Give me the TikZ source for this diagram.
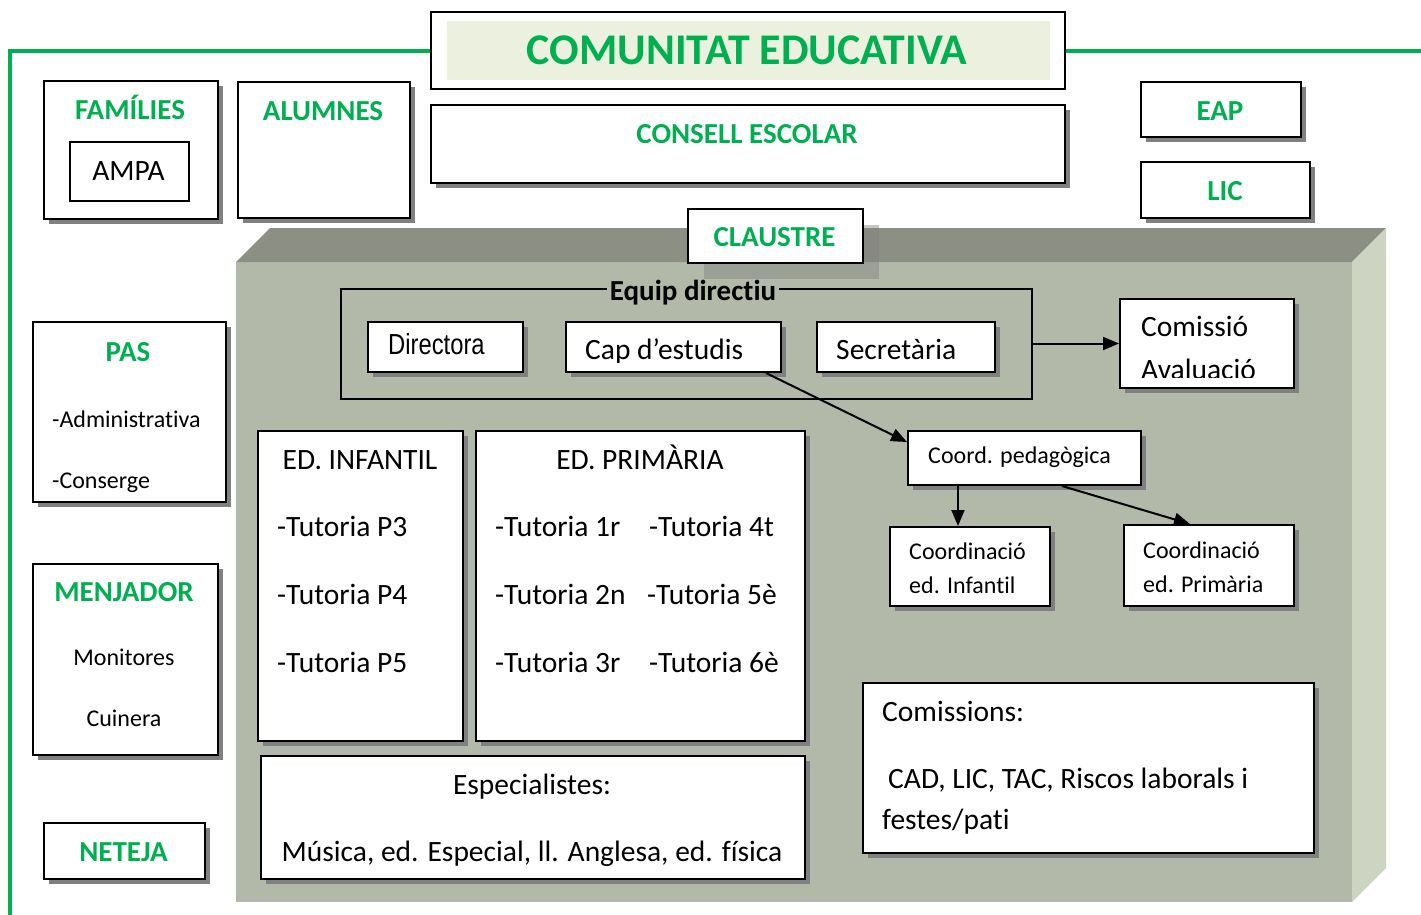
\documentclass[tikz,border=0pt]{standalone}
\usepackage{fontspec}
\setmainfont{Carlito}[Ligatures={NoCommon}]
\newfontfamily\narrowfont[FakeStretch=0.82]{Liberation Sans}
\usetikzlibrary{shadows,arrows.meta,calc}
\definecolor{cgreen}{HTML}{00B050}
\definecolor{titlefill}{HTML}{EBF1DE}
\definecolor{frontc}{HTML}{B2B9A8}
\definecolor{topc}{HTML}{8C8F83}
\definecolor{sidec}{HTML}{CDD4C2}
\definecolor{shadc}{HTML}{808080}
\tikzset{
  box/.style={draw=black, line width=2, fill=white, inner sep=0, anchor=north west,
    drop shadow={shadow xshift=5pt, shadow yshift=-5pt, fill=shadc, opacity=1}},
  plainbox/.style={draw=black, line width=2, fill=white, inner sep=0, anchor=north west},
  head/.style={font=\fontsize{29}{30}\selectfont\bfseries, text=cgreen, inner sep=0, anchor=base},
  txt/.style={font=\fontsize{29.5}{32}\selectfont, inner sep=0, anchor=base west},
  txtc/.style={font=\fontsize{29.5}{32}\selectfont, inner sep=0, anchor=base},
  small/.style={font=\fontsize{24}{26}\selectfont, inner sep=0, anchor=base west},
  smallc/.style={font=\fontsize{24}{26}\selectfont, inner sep=0, anchor=base},
  arr/.style={line width=2, -{Triangle[length=16pt,width=13pt]}},
  gline/.style={draw=cgreen, line width=4}
}
\begin{document}
\begin{tikzpicture}[x=1pt,y=-1pt]
\useasboundingbox (0,0) rectangle (1421,914);
% 3D block
\fill[frontc] (236,262) rectangle (1352,902);
\fill[topc] (236,262) -- (270,228) -- (1386,228) -- (1352,262) -- cycle;
\fill[sidec] (1352,262) -- (1386,228) -- (1386,868) -- (1352,902) -- cycle;
% title
\node[plainbox, minimum width=634pt, minimum height=77pt] (titlebox) at (430,11) {};
\fill[titlefill] ($(titlebox.north west)+(17,10)$) rectangle ($(titlebox.south east)+(-16,-10)$);
\node[font=\fontsize{43.8}{46}\selectfont\bfseries, text=cgreen, inner sep=0, anchor=base] (titletext) at (747,64) {COMUNITAT EDUCATIVA};
\coordinate (gl) at (10,0);
\coordinate (gr) at (1423,0);
\coordinate (gb) at (0,916);
\draw[gline] (titlebox.west) -- (titlebox.west -| gl) -- (gl |- gb);
\draw[gline] (titlebox.east) -- (titlebox.east -| gr);
% consell
\node[box, minimum width=634pt, minimum height=78pt] (consell) at (430,104) {};
\node[head] (consellt) at (747,143) {CONSELL ESCOLAR};
% families
\node[box, minimum width=174pt, minimum height=138pt] (fam) at (43,80) {};
\node[head] (famt) at (130,119) {FAMÍLIES};
\node[plainbox, line width=1.8, minimum width=119pt, minimum height=59pt] (ampa) at (69,141) {};
\node[txtc] (ampat) at (128.5,180) {AMPA};
% alumnes
\node[box, minimum width=172pt, minimum height=136pt] (alum) at (237,81) {};
\node[head] (alumt) at (323,120) {ALUMNES};
% EAP, LIC
\node[box, minimum width=160pt, minimum height=55pt] (eap) at (1140,81) {};
\node[head] (eapt) at (1220,120) {EAP};
\node[box, minimum width=169pt, minimum height=56pt] (lic) at (1140,161) {};
\node[head] (lict) at (1225,200) {LIC};
% PAS
\node[box, minimum width=193pt, minimum height=180pt] (pas) at (32,321) {};
\node[head] (past) at (128,361) {PAS};
\node[small] (pas1) at (52,427) {-Administrativa};
\node[small] (pas2) at (52,488) {-Conserge};
% Menjador
\node[box, minimum width=185pt, minimum height=191pt] (menj) at (32,563) {};
\node[head] (menjt) at (124,601) {MENJADOR};
\node[smallc] (menj1) at (124,665) {Monitores};
\node[smallc] (menj2) at (124,726) {Cuinera};
% Neteja
\node[box, minimum width=161pt, minimum height=56pt] (net) at (43,822) {};
\node[head] (nett) at (123.5,861) {NETEJA};
% Claustre
\node[draw=black, line width=2, fill=white, inner sep=0, anchor=north west,
  minimum width=175pt, minimum height=54pt,
  drop shadow={shadow xshift=16pt, shadow yshift=-16pt, fill=shadc, opacity=0.45}] (claus) at (687,208) {};
\node[head] (claust) at (774.5,246) {CLAUSTRE};
% Equip directiu
\node[draw=black, line width=1.5, inner sep=0, anchor=north west, minimum width=691pt, minimum height=110pt] (equip) at (340,288) {};
\node[font=\fontsize{29}{32}\selectfont\bfseries, fill=frontc, inner xsep=3pt, inner ysep=1pt, anchor=base] (equipt) at (693,300) {Equip directiu};
\node[box, minimum width=155pt, minimum height=50pt] (dir) at (367,321) {};
\node[font=\fontsize{29}{32}\narrowfont, inner sep=0, anchor=base west] (dirt) at (388,354) {Directora};
\node[box, minimum width=215pt, minimum height=50pt] (capd) at (565,321) {};
\begin{scope}
\clip (565,321) rectangle (780,362);
\node[txt] (capdt) at (585,359) {Cap d’estudis};
\end{scope}
\node[box, minimum width=178pt, minimum height=50pt] (secr) at (816,321) {};
\node[txt] (secrt) at (836,359) {Secretària};
% Comissio avaluacio
\node[box, minimum width=174pt, minimum height=89pt] (comav) at (1119,298) {};
\node[txt] (comav1) at (1141,336.5) {Comissió};
\begin{scope}
\clip (1119,298) rectangle (1293,377.5);
\node[txt] (comav2) at (1141,379) {Avaluació};
\end{scope}
\draw[arr] (equip.east |- comav.west) -- (comav.west);
% Coordination
\node[box, minimum width=233pt, minimum height=54pt] (coordp) at (907,430) {};
\node[small] (coordpt) at (928,463) {Coord. pedagògica};
\node[box, minimum width=160pt, minimum height=79pt] (coordi) at (889,526) {};
\node[small] (coordi1) at (909,559) {Coordinació};
\node[small] (coordi2) at (909,593) {ed. Infantil};
\node[box, minimum width=170pt, minimum height=81pt] (coordpr) at (1123,524) {};
\node[small] (coordpr1) at (1143,558) {Coordinació};
\node[small] (coordpr2) at (1143,592) {ed. Primària};
\draw[arr] ($(capd.south east)+(-16,0)$) -- ($(coordp.north west)+(0,12)$);
\draw[arr] ($(coordp.south west)+(51,0)$) -- ($(coordi.north west)+(69,0)$);
\draw[arr] ($(coordp.south west)+(155,0)$) -- ($(coordpr.north west)+(67,0)$);
% Ed infantil
\node[box, minimum width=205pt, minimum height=310pt] (inf) at (257,430) {};
\node[txtc] (inft) at (360,469) {ED. INFANTIL};
\node[txt] (inf1) at (277,536) {-Tutoria P3};
\node[txt] (inf2) at (277,604) {-Tutoria P4};
\node[txt] (inf3) at (277,672) {-Tutoria P5};
% Ed primaria
\node[box, minimum width=329pt, minimum height=310pt] (prim) at (475,430) {};
\node[txtc] (primt) at (640,469) {ED. PRIMÀRIA};
\node[txt] (prim1) at (495,536) {-Tutoria 1r};
\node[txt] (prim2) at (495,604) {-Tutoria 2n};
\node[txt] (prim3) at (495,672) {-Tutoria 3r};
\node[txt] (prim4) at (649,536) {-Tutoria 4t};
\node[txt] (prim5) at (647,604) {-Tutoria 5è};
\node[txt] (prim6) at (649,672) {-Tutoria 6è};
% Especialistes
\node[box, minimum width=544pt, minimum height=123pt] (esp) at (260,755) {};
\node[txtc] (esp1) at (532,794) {Especialistes:};
\node[txtc] (esp2) at (532,861) {Música, ed. Especial, ll. Anglesa, ed. física};
% Comissions
\node[box, minimum width=451pt, minimum height=170pt] (comis) at (862,682) {};
\node[txt] (comis1) at (882,721) {Comissions:};
\node[txt] (comis2) at (888,788) {CAD, LIC, TAC, Riscos laborals i};
\node[txt] (comis3) at (882,829) {festes/pati};
\end{tikzpicture}
\end{document}
